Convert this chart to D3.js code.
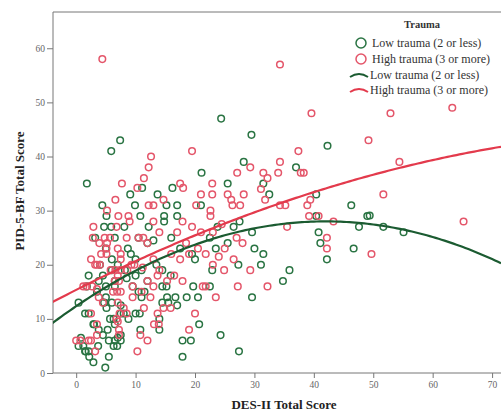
<!DOCTYPE html>
<html><head><meta charset="utf-8">
<script src="https://cdn.jsdelivr.net/npm/d3@7"></script>
<style>body{margin:0;background:#fff}svg{display:block}</style>
</head><body>
<svg id="c" width="501" height="414"></svg>
<script>
const xTicks=[0,10,20,30,40,50,60,70];
const yTicks=[0,10,20,30,40,50,60];
const legendLabels=["Low trauma (2 or less)","High trauma (3 or more)"];
// quadratic fit coefficients [a,b,c] : y = a + b x + c x^2
const lowFit=[12.34,0.746,-0.00888];
const highFit=[15.36,0.5551,-0.002592];
const lowTrauma=[[24.4,47],[7.4,43],[5.9,41],[29.5,44],[42.3,42],[28.2,39],[37,38],[1.8,35],[21.1,37],[25.5,35],[16.2,34.2],[11.1,34.2],[9.1,33],[13.7,33],[31.5,35],[32.5,33],[40.4,33],[4.4,31],[9.9,31],[15.2,31],[17,31],[21,31],[46.3,31],[5.1,29],[10.8,29],[14.8,29],[17,29],[40.4,29],[49,29],[49.4,29.1],
[47.6,27],[51.7,27],[29.6,26],[55.1,26],[40.8,26],[41.1,24],[30,23],[46.7,23],[31.5,22],[42.2,21],[31.1,20],[35.9,19],[34.8,17],[29.6,14],
[14.8,28],[4.7,27],[5.9,27],[8.1,27],[12.2,27],[23.8,27],[27.5,28],[26.5,27],
[3.2,25],[6.5,25],[10.5,25],[12,24],[13,24.5],[16,25],[22.5,25],[25.5,24],
[5,23],[8.7,23],[9.2,22],[17.5,23],[23.5,23],[19.5,22],
[6,21],[10,21],[13.5,20],[20,21],[27.3,20],[4,20],[2.1,18],[7,20],[8.2,19],
[22.9,19],[11,19],[14.5,19],[6,19],
[15.9,18],[4.5,18],[8.5,17.5],[10,18],
[9.5,16],[6.5,17],[3.8,17],[12,17],[1.8,16],
[19.7,16],[22.5,16],[15.2,16],[14.5,16],[5,16],[6.5,16],[10.5,15],[11.5,15],
[18.6,14],[15.3,14],[16.7,14],[3.5,15],[5,14],[6,13],[11,14],[20.5,14],
[0.4,13],[4.7,13],[14.5,13],[15.5,13],[17,12.5],[7.5,12.5],
[5.1,12],[1.5,11],[2.1,11],[10,11],[10.7,11],[7.5,11],[8,11],
[5.7,10],[6.3,10],[8.8,10],[3,9],[14,10],
[20.7,9],[2.9,9],[6.5,9],
[3.8,8],[10.8,8],[5.3,8],[14,8],
[24.3,7],[4.5,7],[7.5,7],[7,6.5],
[17.9,6],[19.3,6],[5.5,6],[6.5,6],[7.5,6],[0.8,6.5],
[0.4,5],[1.2,5],[3.7,5],[6.3,5],[6.9,5],[1.6,4],
[1.5,4],[2.1,4],[27.4,4],
[2.2,3],[5.5,3],[17.9,3],
[2.9,2],[4.9,1]];
const highTrauma=[[4.4,58],[34.3,57],[39.6,48],[52.9,48],[63.3,49],[49.2,43],[37.4,41],[19.5,41],[12.6,40],[34.3,39],[54.4,39],[12.2,38],[29.3,38],[11.4,36],[27.1,37],[31.5,37],[34,37],[37.8,37],[38.3,37],[32.2,36],[7.7,35],[22.9,35],[17.5,35],[18,34.2],[10.3,34.2],[31.1,34],[21,33],[22.9,33],[25.5,33],[28.2,33],[51.7,33],[6.6,32],[14.7,32],[26.1,32],[31.8,32],[39.4,32],[12.2,31],[13,31],[20.2,31],[26.3,31],[27.6,31],[34.3,31],[35.2,31],[38.9,31],[22.6,30],[5.2,30],[22.6,29],[7.1,29],[8.8,29],[17.9,28],[39.2,29],[40.8,29],[43.3,28],[65.2,28],[35.5,27],[42.2,25],[42.2,23],[49.7,22],[29.3,19],[32.2,16],
[2.9,27],[6.8,27],[9,28],[13,28],[19.5,27],[17,26],[24.5,27.5],
[2.8,25],[4.8,25],[5.7,25],[8.5,25],[10.5,25],[11.3,25],[14,26],[21,26],[23,26],[27,25],
[5.2,24],[3.9,24],[5.1,23],[7,23],[12,24],[18.5,24],[20.5,23],[25,23],[28,24],
[5.1,22],[4.2,22],[7.5,22],[16,22],[19,22],[21.8,22],[24,21.5],[26.5,21],
[2.5,21],[3.2,20],[3.5,20],[4,20],[7.5,21],[9.8,20],[9.3,20],[13,21],[17.5,21],[23,20],
[5.8,19],[6.6,19],[7.4,19],[8.6,19],[11.2,19.5],[24.9,19],[14,19],
[13.7,18],[7,18],[16.5,18],
[6.5,17],[7.2,17],[15.3,17],[17.9,17],[12,17],
[1.2,16],[1.7,16],[2.7,16],[21.3,16],[21.8,16],[27.2,16],[9.5,16],[13,16],
[6.2,15],[6.9,15],[7.5,15],[11,15],[3.5,15.5],
[3.8,14],[23.5,14],[9.5,14],[12.5,14],
[11.4,12],[8,12],[14.7,12],[15.9,12],[4.5,13],[7,13],
[2.5,11],[7.3,11],[8.5,11],[13.7,11],[20,11],
[3.5,9],[6.8,10],[13.1,9],[13.9,9],[7,9.5],
[19,8],[7.2,8],
[3.5,7],[7.2,7],[10.8,7],
[0,6],[0.7,6],[2.1,6],[2.5,6],[12,6],
[3.2,4],[10.3,4]];

const GREEN="#2a7443", GREENLINE="#1b5b31", RED="#e4566a", REDLINE="#e33a4c";
const svg=d3.select("#c");
const L=53,R=501,T=12,B=373;
const x=d3.scaleLinear().domain([-3.9,71.5]).range([L,R]);
const y=d3.scaleLinear().domain([0,66.7]).range([B,T]);
const serif="'Liberation Serif','Times New Roman',serif";

svg.append("defs").append("clipPath").attr("id","clip").append("rect")
  .attr("x",L).attr("y",T).attr("width",R-L).attr("height",B-T);

svg.append("line").attr("x1",L).attr("x2",R).attr("y1",T).attr("y2",T).attr("stroke","#777").attr("stroke-width",1);

const ya=svg.append("g").attr("transform",`translate(${L},0)`)
  .call(d3.axisLeft(y).tickValues(yTicks).tickSize(6).tickSizeOuter(0));
ya.select(".domain").attr("d",`M0,${T}V${B}`);
const xa=svg.append("g").attr("transform",`translate(0,${B})`)
  .call(d3.axisBottom(x).tickValues(xTicks).tickSize(5).tickSizeOuter(0));
xa.select(".domain").attr("d",`M${L},0H${R}`);
[ya,xa].forEach(a=>{
  a.selectAll("path,line").attr("stroke","#777");
  a.selectAll("text").attr("font-family",serif).attr("font-size",9.5).attr("fill","#666");
});
ya.selectAll("text").attr("x",-8);
xa.selectAll("text").attr("y",8);

const pts=svg.append("g").attr("clip-path","url(#clip)");
pts.selectAll(".lo").data(lowTrauma).join("circle")
  .attr("cx",d=>x(d[0])).attr("cy",d=>y(d[1])).attr("r",3.3)
  .attr("fill","none").attr("stroke",GREEN).attr("stroke-width",1.5);
pts.selectAll(".hi").data(highTrauma).join("circle")
  .attr("cx",d=>x(d[0])).attr("cy",d=>y(d[1])).attr("r",3.3)
  .attr("fill","none").attr("stroke",RED).attr("stroke-width",1.5);

const xs=d3.range(-4,72,0.5);
const q=(c,v)=>c[0]+c[1]*v+c[2]*v*v;
const line=c=>d3.line().x(v=>x(v)).y(v=>y(q(c,v)))(xs);
pts.append("path").attr("d",line(lowFit)).attr("fill","none").attr("stroke",GREENLINE).attr("stroke-width",2.2);
pts.append("path").attr("d",line(highFit)).attr("fill","none").attr("stroke",REDLINE).attr("stroke-width",2.2);

svg.append("text").attr("x",284).attr("y",409).attr("text-anchor","middle")
  .attr("font-family",serif).attr("font-weight","bold").attr("font-size",13).attr("fill","#222").text("DES-II Total Score");
svg.append("text").attr("transform","translate(24,191) rotate(-90)").attr("text-anchor","middle")
  .attr("font-family",serif).attr("font-weight","bold").attr("font-size",13).attr("fill","#222").text("PID-5-BF Total Score");

const lg=svg.append("g").attr("font-family",serif);
lg.append("text").attr("x",422).attr("y",28).attr("text-anchor","middle").attr("font-size",10.5).attr("font-weight","bold").attr("fill","#333").text("Trauma");
const rows=[43,59,75,90];
[GREEN,RED].forEach((c,i)=>{
  lg.append("circle").attr("cx",361).attr("cy",rows[i]).attr("r",5).attr("fill","none").attr("stroke",c).attr("stroke-width",1.5);
  lg.append("text").attr("x",372).attr("y",rows[i]+4).attr("font-size",12).attr("fill","#333").text(legendLabels[i]);
});
[GREENLINE,REDLINE].forEach((c,i)=>{
  const yy=rows[i+2];
  lg.append("path").attr("d",`M350,${yy+2}Q359,${yy-4} 368,${yy+2}`).attr("fill","none").attr("stroke",c).attr("stroke-width",2);
  lg.append("text").attr("x",370).attr("y",yy+4).attr("font-size",12).attr("fill","#333").text(legendLabels[i]);
});
</script>
</body></html>
